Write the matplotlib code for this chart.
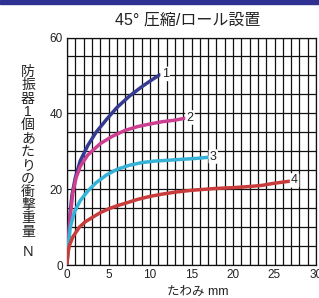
import matplotlib
matplotlib.use("Agg")
import matplotlib.pyplot as plt
from matplotlib.patches import Rectangle

plt.rcParams['font.family'] = ['Liberation Sans', 'Noto Sans CJK JP', 'DejaVu Sans']

# 読み取り値 (たわみ mm, 衝撃重量 N)
x1 = [0, 0.15, 0.35, 0.6, 1.0, 1.6, 2.5, 3.5, 4.8, 6.0, 7.5, 9.0, 10.2, 11.2]
y1 = [0, 6, 13, 18.5, 23, 27.5, 31.5, 35, 38.5, 41.5, 44.5, 47, 48.8, 50.2]
x2 = [0, 0.15, 0.4, 0.7, 1.1, 1.6, 2.5, 4.0, 5.5, 7.0, 8.5, 10.0, 11.5, 13.0, 14.2]
y2 = [0, 6, 13, 19, 23, 26, 29, 32, 34, 35.5, 36.5, 37.2, 37.8, 38.2, 38.7]
x3 = [0, 0.1, 0.4, 0.9, 1.6, 2.5, 3.5, 4.8, 6.0, 7.5, 9.0, 10.5, 12.0, 14.0, 15.5, 17.0]
y3 = [0, 4, 10, 14, 17, 19.5, 21.7, 23.8, 25.2, 26.3, 27.0, 27.4, 27.6, 27.9, 28.1, 28.4]
x4 = [0, 0.1, 0.3, 0.7, 1.5, 2.2, 3.1, 4.0, 5.0, 6.0, 7.2, 8.5, 10.0, 11.5, 13.0, 15.0, 18.0, 20.0, 22.0, 23.5, 24.8, 26.8]
y4 = [0, 3, 5.2, 7.4, 10, 11.4, 12.6, 13.8, 14.8, 15.6, 16.4, 17.3, 18.1, 18.7, 19.2, 19.7, 20.2, 20.4, 20.7, 21.0, 21.5, 22.1]

series = [
    (x1, y1, '#333a8f', '1'),
    (x2, y2, '#cc3f91', '2'),
    (x3, y3, '#36b2d6', '3'),
    (x4, y4, '#c93c3c', '4'),
]

fig = plt.figure(figsize=(3.19, 2.98), dpi=100)
fig.patches.append(Rectangle((0, 1 - 4 / 298), 1, 4 / 298, transform=fig.transFigure,
                             color='#2e3192', zorder=0))

ax = fig.add_axes([67 / 319, 33 / 298, 249 / 319, 227.5 / 298])
ax.set_xlim(0, 30)
ax.set_ylim(0, 60)
ax.set_xticks(range(0, 31, 5))
ax.set_xticks(range(0, 31), minor=True)
ax.set_yticks(range(0, 61, 20))
ax.set_yticks(range(0, 61, 5), minor=True)
ax.grid(True, which='both', color='#111111', linewidth=0.9)
ax.set_axisbelow(True)
ax.tick_params(which='both', length=0, labelsize=8.5, colors='#222222', pad=3)
for s in ax.spines.values():
    s.set_color('#111111')
    s.set_linewidth(0.9)

for xs, ys, c, lab in series:
    ax.plot(xs, ys, color=c, linewidth=2.5, solid_capstyle='round', zorder=3)
    ax.text(xs[-1] + 0.2, ys[-1] + 0.2, lab, fontsize=9, color='#222222',
            ha='left', va='center', zorder=4,
            bbox=dict(boxstyle='round,pad=0.1', fc='white', ec='none'))

fig.text(188 / 319, 1 - 20 / 298, '45° 圧縮/ロール設置', fontsize=11.5,
         ha='center', va='center', color='#222222')
fig.text(198 / 319, 1 - 292 / 298, 'たわみ mm', fontsize=9,
         ha='center', va='center', color='#222222')

ylab = '防振器1個あたりの衝撃重量'
for i, ch in enumerate(ylab):
    fig.text(28 / 319, 1 - (72 + i * 13.3) / 298, ch, fontsize=10,
             ha='center', va='center', color='#222222')
fig.text(28 / 319, 1 - 252 / 298, 'N', fontsize=10.5, ha='center', va='center',
         color='#222222')

fig.savefig('out.png', dpi=100)
